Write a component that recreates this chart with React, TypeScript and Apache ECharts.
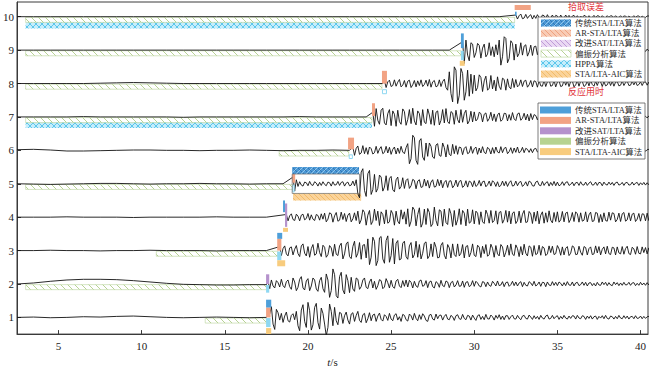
import React, { useEffect, useRef } from "react";
import * as echarts from "echarts";

// ---------- categories / ticks ----------
const ALGOS = ["传统STA/LTA算法", "AR-STA/LTA算法", "改进SAT/LTA算法", "偏振分析算法", "HPPA算法", "STA/LTA-AIC算法"];
const LEGEND_ERR = [0, 1, 2, 3, 4, 5]; // 拾取误差 legend (hatched)
const LEGEND_TIME = [0, 1, 2, 3, 5]; // 反应用时 legend (solid)
const X_TICKS = [5, 10, 15, 20, 25, 30, 35, 40];
const Y_TICKS = [1, 2, 3, 4, 5, 6, 7, 8, 9, 10];

// ---------- waveforms (amplitudes in 0.01 trace units) ----------
const ARRIVALS = [17.7, 17.6, 18.3, 18.7, 19.1, 22.7, 23.9, 24.6, 29.3, 32.5];
const PRE_T0 = 2.5;
const PRE_STEP = 1;
const POST_STEP = 0.1;
const AMP_UNIT = 0.01;

const PRE_1 = [0, 1, -1, 0, 2, 1, 3, 4, 2, 0, -1, 0, 1, 0, -1, 0];
const POST_1 = [10, 32, -20, -36, 24, 14, -8, 12, -15, 4, 16, -10, -14, 6, 11, -7, 18, -25, -40, 22, 38, -12, -30, 45, 20, -38, -22, 30, 42, -15, -35, 28, 12, -20, -55, -30, 40, 18, -25, 30, -10, -22, 15, 12, -18, 5, 16, -8, -20, 10, 14, -12, 6, 18, -9, -15, 8, 12, -16, -4, 14, -10, 7, 10, -12, 4, 13, -6, -11, 8, 3, -9, 12, -5, -10, 7, 11, -8, 2, -12, 9, 6, -7, -11, 10, 5, -8, 12, -3, -10, 8, -6, 11, 4, -9, -12, 7, 9, -5, -8, 10, -4, 6, 7, -8, 3, 9, -5, -7, 6, 2, -9, 5, 8, -4, -6, 9, -3, -7, 6, 4, -8, 7, -2, -9, 5, 8, -6, 3, -7, 9, -4, -5, 7, 2, -8, 6, -3, 8, -6, 4, -7, 5, 5, -6, 2, 7, -4, -5, 6, -2, -7, 4, 6, -3, -5, 7, 1, -6, 5, -4, 3, -6, 6, -2, -5, 4, 7, -5, -3, 6, -4, 2, 5, -6, 3, -4, 6, -2, -5, 4, -3, 5, 4, -5, 6, -2, -4, 5, 3, -6, 4, -3, 5, -5, 2, 4, -6, 3, -2, 5, -4, 6, -3, -5, 4, 2, -5, 3, -4, 6, -2, -4, 5, -3, 4, -5, 2, 3, -4, 5, -3, -2, 4, -4, 3, -3, 2, 3, -4, 2, -3];

const PRE_2 = [0, 3, 8, 12, 14, 14, 13, 10, 6, 2, -1, -2, -3, -3, -2, -2];
const POST_2 = [8, -14, 12, -6, -12, 10, 4, -9, 14, -5, -11, 7, 12, -8, -16, 18, 6, -20, -10, 14, 22, -12, -18, 9, 16, -20, -6, 18, 12, -15, -22, 10, 20, -14, -25, 30, 12, -40, -20, 45, 28, -35, -42, 22, 35, -18, -30, 28, 10, -26, 20, -15, -22, 18, 14, -16, -8, 12, 18, -10, -14, 6, 15, -12, 8, -16, -5, 13, 10, -14, -9, 16, 4, -12, 11, -8, -13, 9, 14, -6, -11, 10, -7, 12, -9, 11, 5, -12, 8, -6, -10, 9, 12, -7, -4, 10, -11, 6, 9, -8, -12, 7, 3, -10, 11, -5, -8, 9, 6, -11, 4, 8, -9, -3, 10, -7, -6, 9, -10, 5, 7, -8, -4, 10, -7, 8, 3, -6, -9, 7, 5, -8, 6, -4, -7, 8, 2, -6, 9, -5, -3, 7, -8, 4, 6, -7, -2, 8, -5, 6, -6, 3, 7, -8, 5, -4, -6, 7, 3, -5, 8, -6, -2, 6, -7, 5, 4, -8, 6, -3, -5, 7, -4, 5, -5, 6, 2, -6, 4, -5, 7, -3, -4, 6, -6, 3, 5, -5, -2, 6, -4, 5, -6, 3, 4, -5, 2, -6, 5, -3, -4, 6, -2, 5, -5, 4, -3, -5, 6, -2, 4, -5, 3, -4, 5, -3, -2, 5, -4, 3, 4, -5, 2, -4, 5, -3, 3, -4, 4, -3, 3, -2];

const PRE_3 = [0, 0, 1, 0, 0, -1, 0, 0, 1, 0, 0, 0, -1, 0, 0, 0];
const POST_3 = [12, -15, 6, 14, -10, -16, 8, 11, -13, 4, 15, -9, -18, 14, 20, -8, -16, 12, -20, 6, 18, -14, -10, 22, -6, -18, 16, 10, -20, -12, 15, 8, -17, 19, -11, -15, 14, 22, -25, -10, 20, 26, -18, -24, 12, 28, -20, -8, 24, -26, 16, 18, -22, 35, -42, -20, 40, 28, -45, -30, 38, 42, -25, -38, 30, 44, -35, -15, 36, -40, 22, 30, -28, -25, 22, 28, -18, -26, 14, 24, -22, -12, 28, -20, 18, -25, -8, 22, 26, -24, -16, 20, -18, 25, 10, -22, -20, 16, 24, -14, -25, 18, 8, -22, 20, -12, -18, 20, -16, -8, 18, -22, 12, 15, -19, -6, 20, -14, -18, 16, 10, -21, 13, -9, 18, -17, -12, 19, 7, -20, 15, -10, -16, 18, 11, -19, -5, 16, -14, 20, -11, -15, 17, 6, -18, 12, -13, 19, -8, -16, 14, 10, -17, 15, -12, -9, 16, -14, 12, 8, -15, -10, 14, -6, 13, -12, -9, 15, 5, -14, 11, -13, 7, 12, -15, -8, 14, 10, -12, -11, 13, -5, -14, 12, 9, -13, 6, 11, -12, -10, 14, -7, 12, -13, 4, 11, -10, 13, -9, -12, 10, 8, -13, 11, -7, -10, 12, -11, 6, 13, -9, -12, 10, 5, -11, 12, -8, -10, 11, -6, 9, -10, 8, -9, 7, -8];

const PRE_4 = [0, 0, 0, 1, 0, 0, 0, -1, 0, 0, 0, 0, 1, 0, 0, 0];
const POST_4 = [8, -11, 4, 10, -7, -10, 9, 3, -11, 6, 9, -8, -4, 11, -9, 7, -6, -10, 8, 5, -9, 10, -6, 12, -14, -6, 13, 10, -15, 4, 14, -12, -9, 15, -7, 11, -13, 6, 12, -14, -5, 13, -10, 18, -20, -8, 22, 14, -24, 6, 20, -22, -12, 24, -10, 18, -25, 16, 8, -20, 22, -18, -14, 20, 10, -24, 18, -12, -20, 22, -6, 16, -21, 25, -28, -12, 30, 22, -26, 8, 28, -30, -18, 24, -22, 26, 14, -28, -20, 30, -10, -26, 22, 18, -27, 24, -16, -22, 26, 10, -28, 20, -24, -8, 25, -22, 20, 12, -26, 24, -18, -14, 22, -20, 18, 12, -22, 16, -14, -19, 21, 8, -18, 20, -16, -10, 19, -21, 14, 17, -18, -7, 20, -15, 18, -20, 12, 16, -19, -11, 18, -17, 9, 20, -16, -14, 17, 10, -19, 15, -12, 18, -20, 6, 16, -18, 13, -15, 19, -9, -17, 14, -13, 16, -15, -8, 17, -14, 12, 15, -16, -6, 14, -13, 16, 10, -15, 13, -12, -9, 16, -14, 7, 15, -13, -11, 14, 12, -16, 8, -14, 13, -10, -12, 15, -9, 13, 11, -14, -7, 12, -13, 10, 14, -12, -8, 13, -11, 9, 12, -13, -6, 11, -12, 10, 9, -11, 12, -10, 8, -9];

const PRE_5 = [0, -1, -2, -1, 0, 1, 1, 0, -1, 0, 0, 1, 0, 0, -1, 0, 0];
const POST_5 = [20, -22, 12, -8, 6, -4, -7, 5, 3, -6, 7, -3, -5, 6, 2, -7, 4, -5, 6, -2, -6, 5, 3, -7, 6, -4, -3, 7, -5, 4, 6, -7, 2, 5, -6, -4, 8, -6, 12, -30, -42, 35, 45, -20, -38, 30, 40, -32, -18, 28, -25, -14, 26, 20, -22, -10, 24, -20, 16, 22, -18, -24, 12, 20, -16, -8, 18, -14, 10, 15, -14, -6, 13, 10, -15, 8, 12, -11, -9, 14, -7, 10, -13, 5, 12, -10, -8, 13, -6, 11, -12, 4, 10, -11, 8, 9, -12, -5, 11, -9, 7, 10, -11, -6, 9, -10, 8, 5, -9, 9, -8, -4, 10, -7, 6, 8, -9, -3, 8, -7, 9, 4, -8, 6, -9, -5, 8, -6, 7, -8, 3, 9, -7, -5, 8, -6, 4, 7, -8, -3, 6, -7, 8, 5, -6, -7, 5, 8, -4, -6, 7, -5, 3, 6, -7, 4, -5, 7, -6, 5, -6, -3, 6, -5, 4, 6, -5, -2, 5, -6, 3, 4, -5, 6, -3, -4, 5, -5, 2, 6, -4, -3, 5, -5, 4, 3, -6, 5, -2, -4, 5, -3, 4, -5, 3, 5, -4, -2, 4, -5, 3, 4, -4, -3, 5, -4, 2, 4, -5, 3, -3, 4, -4, 3, -3, 2, -3];

const PRE_6 = [2, 3, 1, -2, -2, -1, 0, 1, 1, 0, 0, -1, 0, 0, 1, 0, -1, 0, 0, 1, 0];
const POST_6 = [10, -15, 6, 13, -12, -8, 14, -10, 8, -12, 10, 5, -11, -7, 12, -9, 4, 11, -10, -6, 12, -8, 9, -12, 3, 10, -11, 7, -9, 12, -5, -10, 8, 20, -40, -25, 45, 38, -30, -42, 28, 35, -20, -30, 22, -18, 22, 12, -20, -24, 16, 20, -15, -18, 22, 8, -20, 17, -12, -16, 18, -10, 14, -12, 10, 8, -13, 6, 11, -10, -7, 12, -9, 5, 10, -12, 7, -8, 11, -6, -10, 9, 4, -11, 8, -9, 10, -5, -8, 11, -7, 6, 9, -10, -4, 8, -9, 7, -6, 10, -8, -3, 9, -7, 6, 3, -6, 5, -7, 4, 6, -5, -3, 7, -5, 2, 6, -6, 4, -4, 5, -6, 3, 5, -4, -5, 6, -2, -5, 5, 3, -6, 4, -3, 5, -5, 2, 4, -5, 3, -4, 5, -3, -2, 5, -4, 3, 4, -5, 2, -3, 4, -4, 3, 5, -4, -2, 4, -3, 3, -4, 2, 4, -4, 3, -3, -2, 4, -3, 2, 3, -4, 3, -2, -3, 4, -3, 2, 3, -3, 2, -2];

const PRE_7 = [0, 0, 0, 0, 1, 0, 0, 0, 0, 0, -1, 0, 0, 0, 0, 0, 0, 1, 0, 0, 0, 0];
const POST_7 = [14, -28, 25, -10, -22, 20, 26, -18, -24, 10, 22, -26, 18, 8, -28, 20, -14, -22, 24, 16, -25, -8, 22, -20, 26, -12, -24, 18, 10, -26, 22, -16, -20, 24, 6, -22, 20, -25, 14, 18, -24, -10, 22, -18, 25, -14, -20, 16, 12, -22, 20, -8, -18, 22, -16, 10, 20, -21, -12, 17, -15, 15, -12, -6, 14, 10, -15, 8, 12, -13, -5, 14, -11, 9, -14, 6, 12, -13, -8, 11, 10, -12, 7, -10, 13, -6, -11, 9, 12, -10, -4, 11, -9, 8, -12, 10, -8, 7, 4, -9, 6, -7, 8, -5, -6, 7, 3, -8, 6, -4, -7, 8, -5, 5, -6, 7, -3, -6, 5, 4, -7, 6, -4, -5, 6, 3, -6, 5, -5, 4, -3, 6, -5, 3, 5, -6, -2, 5, -4, 4, -5, 3, 5, -4, -3, 4, -5, 2, 4, -4, 3, -5, 4, -2, -4, 5, -3, 3, 4, -4, -2, 3, -4, 3, 2, -3, 3, -2, 2, -3];

const PRE_8 = [0, 0, 0, 0, 0, 1, 2, 3, 2, 1, 0, 0, 0, 0, 0, 0, 0, 0, 0, 0, 0, 0, 0];
const POST_8 = [8, -12, 5, 10, -9, -6, 11, -8, 4, 12, -10, -5, 9, -11, 7, 10, -12, -4, 9, -10, 8, -6, 11, -9, -3, 10, -8, 12, -11, 5, 9, -10, -7, 11, -9, 6, 13, -12, -20, 35, -30, -55, 50, 40, -60, -35, 45, 30, -50, -25, 40, -38, 28, -30, 25, -22, -12, 26, 18, -24, 8, 22, -20, -14, 24, -16, 10, -22, 20, -8, -18, 16, 12, -20, 14, -10, -16, 15, -12, 12, -10, -5, 11, -9, 7, 10, -11, -4, 9, -10, 8, 6, -11, 9, -7, -8, 10, -9, 5, 11, -8, -6, 9, -10, 4, 8, -9, -7, 10, -5, 8, -9, 6, 7, -10, -4, 9, -8, 7, 6, -9, -5, 8, -7, 9, -3, -8, 7, -6, 8, 5, -9, 6, -7, -4, 8, -6, 7, -8, 4, 6, -7, -5, 8, -6, 3, 7, -6, -5, 7, -4, 6, -6, -3, 5, -6, 4, 5, -5, 4, -4, 3, -5];

const PRE_9 = [0, 0, 0, 0, 0, 0, 0, 0, 0, 0, 0, 0, 0, 0, 0, 0, 0, 0, 0, 0, 0, 0, 0, 0, 0, 0, 0];
const POST_9 = [25, -40, 30, -15, -32, 22, 18, -22, -8, 20, 14, -24, 6, 18, -20, -12, 22, -16, 10, -20, 16, -14, 30, -45, -20, 40, 35, -38, -25, 28, 20, -30, 18, -20, -10, 22, -15, 12, 16, -18, -6, 15, -16, 10, 12, -14, 8, -10, 9, 6, -11, 8, -7, -9, 10, -5, 8, -9, 7, 5, -10, 8, -6, -8, 9, -4, 7, -8, 6, 5, -9, 7, -5, -7, 8, -3, 6, -7, 5, 4, -8, 6, -4, -6, 7, -3, 5, -6, 4, 3, -6, 5, -4, -5, 6, -2, 4, -5, 4, 3, -5, 4, -3, -4, 5, -2, 3, -4, 3, 2, -4, 3, -2, 2];

const PRE_10 = [0, 0, 0, 0, 0, 0, 0, 0, 0, 0, 0, 0, 0, 0, 0, 0, 0, 0, 0, 0, 0, 0, 0, 0, 0, 0, 0, 0, 0, 0];
const POST_10 = [5, -7, 3, 8, -6, -4, 7, -5, 2, 6, -7, 4, -5, 6, -3, -6, 5, 3, -5, 6, -4, -3, 5, -5, 4, 2, -6, 5, -3, -4, 5, -3, 4, -5, 2, 4, -4, 3, -4, 2, -3, 4, 2, -4, 3, -3, -2, 4, -3, 3, 2, -4, 3, -2, -3, 3, -2, 3, 2, -3, 3, -2, -2, 3, -3, 2, 2, -3, 2, -2, -2, 3, -2, 2, 2, -3, 2, -2, -2, 2, 2, -2];

const PRE = [PRE_1, PRE_2, PRE_3, PRE_4, PRE_5, PRE_6, PRE_7, PRE_8, PRE_9, PRE_10];
const POST = [POST_1, POST_2, POST_3, POST_4, POST_5, POST_6, POST_7, POST_8, POST_9, POST_10];

// ---------- algorithm windows: [trace, algo, tStart, tEnd, lowOffset, highOffset, kind]
// kind: 0 hatched, 1 solid, 2 outlined, 3 frame
const WINDOWS: number[][] = [
  [10, 3, 3.02, 32.43, -0.17, -0.02, 0],
  [10, 4, 3.02, 32.43, -0.35, -0.17, 0],
  [10, 1, 32.43, 33.4, 0.2, 0.35, 1],
  [10, 0, 32.45, 32.55, 0.03, 0.15, 1],
  [9, 3, 3.02, 29.2, -0.17, -0.02, 0],
  [9, 0, 29.2, 29.37, 0.06, 0.5, 1],
  [9, 4, 29.2, 29.37, -0.3, -0.02, 1],
  [9, 5, 29.13, 29.43, -0.47, -0.32, 1],
  [8, 3, 3.02, 24.45, -0.17, -0.02, 0],
  [8, 1, 24.45, 24.75, 0, 0.38, 1],
  [8, 4, 24.45, 24.75, -0.32, -0.17, 2],
  [7, 3, 3.02, 23.85, -0.17, -0.02, 0],
  [7, 4, 3.02, 23.85, -0.33, -0.17, 0],
  [7, 1, 23.85, 24.03, 0.03, 0.41, 1],
  [6, 3, 18.27, 22.45, -0.17, -0.02, 0],
  [6, 1, 22.41, 22.77, 0.03, 0.38, 1],
  [6, 4, 22.45, 22.7, -0.26, -0.12, 2],
  [5, 3, 3.02, 19.1, -0.17, -0.02, 0],
  [5, 0, 19.05, 23.07, 0.29, 0.5, 0],
  [5, 5, 19.1, 23.2, -0.5, -0.29, 0],
  [5, 1, 19.05, 19.23, 0.03, 0.29, 1],
  [5, 4, 19.05, 19.2, -0.26, -0.03, 2],
  [5, -1, 19.05, 23.1, -0.29, 0.29, 3],
  [4, 0, 18.5, 18.62, 0.15, 0.5, 1],
  [4, 2, 18.62, 18.75, -0.29, 0.41, 1],
  [4, 5, 18.5, 18.8, -0.44, -0.32, 1],
  [3, 3, 10.88, 18.18, -0.17, -0.02, 0],
  [3, 0, 18.15, 18.45, 0.35, 0.53, 1],
  [3, 1, 18.15, 18.4, 0, 0.35, 1],
  [3, 4, 18.15, 18.4, -0.29, -0.03, 1],
  [3, 5, 18.15, 18.63, -0.47, -0.29, 1],
  [2, 3, 3.02, 17.5, -0.17, -0.02, 0],
  [2, 2, 17.48, 17.67, 0, 0.29, 1],
  [2, 4, 17.48, 17.67, -0.26, -0.03, 1],
  [1, 3, 13.82, 17.5, -0.17, -0.02, 0],
  [1, 0, 17.48, 17.79, 0.29, 0.53, 1],
  [1, 1, 17.48, 17.75, 0, 0.29, 1],
  [1, 4, 17.48, 17.75, -0.29, -0.02, 1],
  [1, 5, 17.48, 17.79, -0.5, -0.32, 1],
];

// ---------- styles ----------
const SOLID = ["#4e9fd9", "#f2a384", "#b592cc", "#b7d391", "#8fd8f2", "#f8cc7e"];
const HATCH = [
  { bg: "#4b98d5", lines: ["#2b6cab", "#a6d3f2"], dirs: [1, -1], s: 5 },
  { bg: "#f8cbb5", lines: ["#ec9570"], dirs: [1], s: 5 },
  { bg: "#ead8f3", lines: ["#b48bcf"], dirs: [1], s: 5 },
  { bg: "#ffffff", lines: ["#a6c77a"], dirs: [1], s: 7 },
  { bg: "#c6edfb", lines: ["#40bde9", "#40bde9"], dirs: [1, -1], s: 6 },
  { bg: "#fad39a", lines: ["#f0b55c"], dirs: [1], s: 5 },
];
const FONT_LAT = '"Liberation Serif", "Times New Roman", "Noto Sans CJK SC", serif';

function hatchLines(x0: number, y0: number, x1: number, y1: number, s: number, dir: number) {
  const out: number[][] = [];
  if (dir > 0) {
    const cStart = Math.ceil((y0 - x1) / s) * s;
    for (let c = cStart; c <= y1 - x0; c += s) {
      const xa = Math.max(x0, y0 - c);
      const xb = Math.min(x1, y1 - c);
      if (xb > xa) out.push([xa, xa + c, xb, xb + c]);
    }
  } else {
    const cStart = Math.ceil((x0 + y0) / s) * s;
    for (let c = cStart; c <= x1 + y1; c += s) {
      const xa = Math.max(x0, c - y1);
      const xb = Math.min(x1, c - y0);
      if (xb > xa) out.push([xa, c - xa, xb, c - xb]);
    }
  }
  return out;
}

function windowShapes(algo: number, kind: number, x0: number, y0: number, x1: number, y1: number, z2 = 0) {
  const w = x1 - x0;
  const h = y1 - y0;
  const els: any[] = [];
  if (kind === 3) {
    els.push({ type: "rect", z2, shape: { x: x0, y: y0, width: w, height: h }, style: { fill: "none", stroke: "#6b6b6b", lineWidth: 0.7 } });
    return els;
  }
  if (kind === 1) {
    els.push({ type: "rect", z2, shape: { x: x0, y: y0, width: w, height: h }, style: { fill: SOLID[algo], stroke: null } });
    return els;
  }
  if (kind === 2) {
    els.push({ type: "rect", z2, shape: { x: x0 + 0.5, y: y0 + 0.5, width: w - 1, height: h - 1 }, style: { fill: "#ffffff", stroke: SOLID[algo], lineWidth: 1 } });
    return els;
  }
  const hs = HATCH[algo];
  els.push({ type: "rect", z2, shape: { x: x0, y: y0, width: w, height: h }, style: { fill: hs.bg, stroke: null } });
  hs.dirs.forEach((d, i) => {
    hatchLines(x0, y0, x1, y1, hs.s, d).forEach((l) => {
      els.push({ type: "line", z2: z2 + 1, shape: { x1: l[0], y1: l[1], x2: l[2], y2: l[3] }, style: { stroke: hs.lines[i], lineWidth: 0.8 } });
    });
  });
  if (algo === 3) {
    els.push({ type: "rect", z2: z2 + 2, shape: { x: x0, y: y0, width: w, height: h }, style: { fill: "none", stroke: "#b9d39a", lineWidth: 0.6 } });
  }
  return els;
}

function traceData(k: number) {
  const arr = ARRIVALS[k];
  const base = k + 1;
  const pts: number[][] = [];
  PRE[k].forEach((a, i) => {
    const t = PRE_T0 + i * PRE_STEP;
    if (t < arr) pts.push([t, base + a * AMP_UNIT]);
  });
  POST[k].forEach((a, i) => pts.push([arr + i * POST_STEP, base + a * AMP_UNIT]));
  return pts;
}

function legendGraphics() {
  const els: any[] = [];
  const bx = 538;
  const bw = 107;
  els.push({ type: "rect", z: 100, shape: { x: bx, y: 17, width: bw, height: 65 }, style: { fill: "#ffffff", stroke: "#5a5a5a", lineWidth: 0.8 } });
  LEGEND_ERR.forEach((a, i) => {
    const cy = 23 + i * 10.2;
    windowShapes(a, 0, 541, cy - 3.5, 571, cy + 3.5).forEach((e) => els.push({ ...e, z: 101 }));
    els.push({ type: "text", z: 102, style: { text: ALGOS[a], x: 575, y: cy, fill: "#2a2a2a", font: `8.5px ${FONT_LAT}`, textAlign: "left", textVerticalAlign: "middle", align: "left", verticalAlign: "middle" } });
  });
  els.push({ type: "rect", z: 100, shape: { x: bx, y: 103, width: bw, height: 56 }, style: { fill: "#ffffff", stroke: "#5a5a5a", lineWidth: 0.8 } });
  LEGEND_TIME.forEach((a, i) => {
    const cy = 110 + i * 10.4;
    els.push({ type: "rect", z: 101, shape: { x: 540, y: cy - 3.5, width: 31, height: 7 }, style: { fill: SOLID[a] } });
    els.push({ type: "text", z: 102, style: { text: ALGOS[a], x: 575, y: cy, fill: "#2a2a2a", font: `8.5px ${FONT_LAT}`, textAlign: "left", textVerticalAlign: "middle", align: "left", verticalAlign: "middle" } });
  });
  els.push({ type: "text", z: 102, style: { text: "拾取误差", x: 586, y: 6.5, fill: "#e2343a", font: '9px "Noto Sans CJK SC", serif', textAlign: "center", textVerticalAlign: "middle", align: "center", verticalAlign: "middle" } });
  els.push({ type: "text", z: 102, style: { text: "反应用时", x: 586, y: 91.5, fill: "#e2343a", font: '9px "Noto Sans CJK SC", serif', textAlign: "center", textVerticalAlign: "middle", align: "center", verticalAlign: "middle" } });
  return els;
}

function makeCustom(kinds: number[], z: number) {
  const idx = WINDOWS.map((_, i) => i).filter((i) => kinds.includes(WINDOWS[i][6]));
  return {
    type: "custom",
    z,
    silent: true,
    clip: true,
    data: idx.map((i) => [WINDOWS[i][2], WINDOWS[i][0], i]),
    encode: { x: 0, y: 1 },
    renderItem: (params: any, api: any) => {
      const m = WINDOWS[api.value(2)];
      const [tr, algo, t0, t1, lo, hi, kind] = m;
      const pa = api.coord([t0, tr + hi]);
      const pb = api.coord([t1, tr + lo]);
      const x0 = Math.min(pa[0], pb[0]);
      const x1 = Math.max(pa[0], pb[0]);
      const y0 = Math.min(pa[1], pb[1]);
      const y1 = Math.max(pa[1], pb[1]);
      return { type: "group", children: windowShapes(algo, kind, x0, y0, x1, y1) };
    },
  };
}

export default function App() {
  const ref = useRef<HTMLDivElement>(null);
  useEffect(() => {
    if (!ref.current) return;
    const chart = echarts.init(ref.current, undefined, { renderer: "svg" });
    const lineSeries = ARRIVALS.map((_, k) => ({
      type: "line",
      z: 2,
      silent: true,
      symbol: "none",
      clip: true,
      data: traceData(k),
      lineStyle: { color: "#111111", width: 0.9 },
    }));
    chart.setOption({
      animation: false,
      grid: { left: 15, right: 2, top: 2, bottom: 29, show: true, borderColor: "#3a3a3a", borderWidth: 1, backgroundColor: "transparent" },
      xAxis: {
        type: "value",
        min: 2.5,
        max: 40.45,
        name: "{i|t}/s",
        nameLocation: "middle",
        nameGap: 17,
        nameTextStyle: { fontFamily: FONT_LAT, fontSize: 11, color: "#222", rich: { i: { fontStyle: "italic", fontFamily: FONT_LAT, fontSize: 11, color: "#222" } } },
        axisLine: { show: true, lineStyle: { color: "#3a3a3a", width: 1 } },
        axisTick: { show: true, inside: true, length: 4, customValues: X_TICKS, lineStyle: { color: "#3a3a3a" } },
        axisLabel: { customValues: X_TICKS, margin: 6, fontFamily: FONT_LAT, fontSize: 11, color: "#222" },
        splitLine: { show: false },
      },
      yAxis: {
        type: "value",
        min: 0.5,
        max: 10.44,
        axisLine: { show: true, lineStyle: { color: "#3a3a3a", width: 1 } },
        axisTick: { show: true, inside: true, length: 4, customValues: Y_TICKS, lineStyle: { color: "#3a3a3a" } },
        axisLabel: { customValues: Y_TICKS, margin: 3, fontFamily: FONT_LAT, fontSize: 11, color: "#222" },
        splitLine: { show: false },
      },
      series: [makeCustom([0], 1), ...lineSeries, makeCustom([1, 2, 3], 3)],
      graphic: legendGraphics(),
    });
    return () => chart.dispose();
  }, []);
  return <div ref={ref} style={{ position: "absolute", left: 0, top: 0, width: 650, height: 372 }} />;
}
